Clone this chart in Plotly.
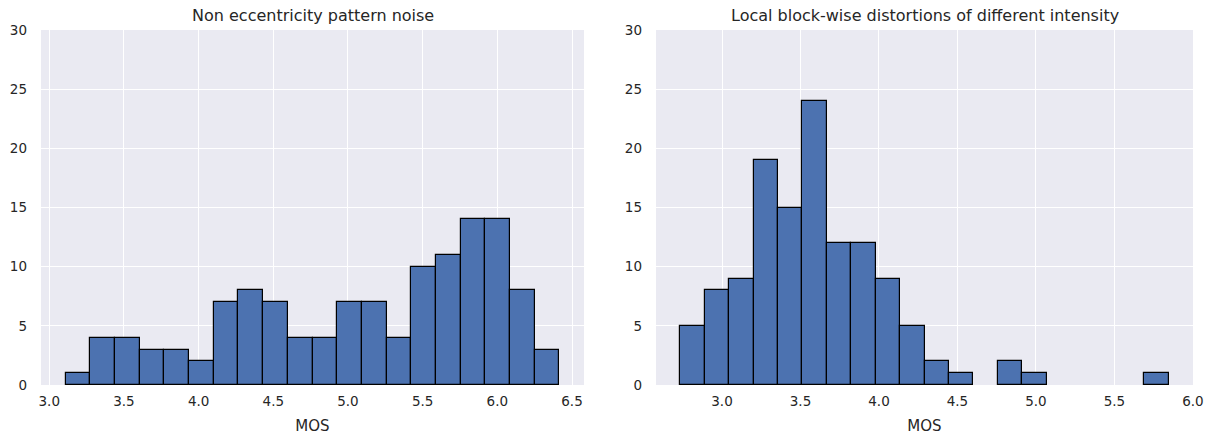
import numpy as np
import plotly.graph_objects as go

# Histogram counts per bin (20 equal-width bins each)
noise_counts = [1, 4, 4, 3, 3, 2, 7, 8, 7, 4, 4, 7, 7, 4, 10, 11, 14, 14, 8, 3]
noise_range = (3.11, 6.415)

block_counts = [5, 8, 9, 19, 15, 24, 12, 12, 9, 5, 2, 1, 0, 2, 1, 0, 0, 0, 0, 1]
block_range = (2.735, 5.845)

titles = ["Non eccentricity pattern noise",
          "Local block-wise distortions of different intensity"]
y_ticks = [0, 5, 10, 15, 20, 25, 30]

FONT = "DejaVu Sans"
BG = "#EAEAF2"
BAR = "#4C72B0"
TXT = "#262626"

W, H = 1209, 437


def bins(counts, rng):
    edges = np.linspace(rng[0], rng[1], len(counts) + 1)
    centers = (edges[:-1] + edges[1:]) / 2
    width = edges[1] - edges[0]
    return centers, width


fig = go.Figure()

panels = [
    (noise_counts, noise_range, (41, 584), [3.0, 3.5, 4.0, 4.5, 5.0, 5.5, 6.0, 6.5], "x", "y"),
    (block_counts, block_range, (656, 1193), [3.0, 3.5, 4.0, 4.5, 5.0, 5.5, 6.0], "x2", "y2"),
]

for i, (counts, rng, (px0, px1), xt, xa, ya) in enumerate(panels):
    centers, width = bins(counts, rng)
    # empty bins get no outline so the baseline stays clean
    edge_w = [1.2 if c > 0 else 0 for c in counts]
    fig.add_trace(go.Bar(
        x=centers, y=counts, width=width,
        marker=dict(color=BAR, line=dict(color="black", width=edge_w)),
        xaxis=xa, yaxis=ya, showlegend=False,
    ))
    span = rng[1] - rng[0]
    pad = 0.05 * span
    suffix = "" if i == 0 else "2"
    fig.layout["xaxis" + suffix] = dict(
        domain=[px0 / W, px1 / W], anchor=ya, automargin=False,
        range=[rng[0] - pad, rng[1] + pad],
        tickvals=xt, ticktext=[f"{v:.1f}" for v in xt],
        showgrid=True, gridcolor="white", gridwidth=1.2,
        zeroline=False, showline=False, ticks="",
        tickfont=dict(family=FONT, size=13.5, color=TXT),
        ticklabelstandoff=6,
        title=dict(text="MOS", font=dict(family=FONT, size=15, color=TXT), standoff=12),
    )
    fig.layout["yaxis" + suffix] = dict(
        anchor=xa, range=[0, 30], tickvals=y_ticks, automargin=False,
        showgrid=True, gridcolor="white", gridwidth=1.2,
        zeroline=False, showline=False, ticks="",
        tickfont=dict(family=FONT, size=13.5, color=TXT),
        ticklabelstandoff=13,
    )
    fig.add_annotation(
        text=titles[i], x=(px0 + px1) / 2 / W, y=1, xref="paper", yref="paper",
        yanchor="bottom", xanchor="center", yshift=3, showarrow=False,
        font=dict(family=FONT, size=16, color=TXT),
    )

fig.update_layout(
    width=W, height=H,
    margin=dict(l=0, r=0, t=30, b=52),
    paper_bgcolor="white", plot_bgcolor=BG,
    bargap=0,
)

fig.write_html("out.html")
